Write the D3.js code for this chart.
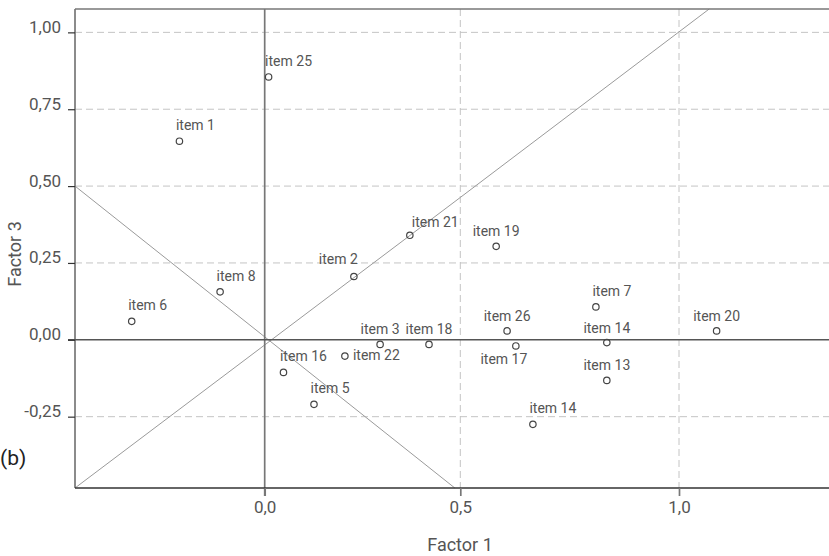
<!DOCTYPE html>
<html>
<head>
<meta charset="UTF-8">
<title>Factor 1 vs Factor 3</title>
<script src="https://d3js.org/d3.v7.min.js"></script>
<style>
body { margin: 0; background: #fff; }
svg { display: block; }
text { font-family: Roboto, "DejaVu Sans", sans-serif; }
</style>
</head>
<body>
<script>

/* Data: item loadings */
var items   = ['item 25', 'item 1', 'item 6', 'item 8', 'item 2', 'item 21', 'item 19',
               'item 3', 'item 18', 'item 16', 'item 22', 'item 26', 'item 17', 'item 7',
               'item 14', 'item 13', 'item 20', 'item 5', 'item 14']
var factor1 = [0.01, -0.218, -0.34, -0.114, 0.228, 0.371, 0.582,
               0.295, 0.42, 0.048, 0.205, 0.607, 0.627, 0.81,
               0.835, 0.835, 1.086, 0.126, 0.666]
var factor3 = [0.855, 0.646, 0.06, 0.156, 0.206, 0.34, 0.304,
               -0.015, -0.015, -0.106, -0.053, 0.029, -0.02, 0.107,
               -0.009, -0.132, 0.029, -0.21, -0.275]
// where the label sits relative to its point
var labelPos = ['nw', 'nw', 'nw', 'nw', 'nl', 'ne', 'n',
                'n', 'n', 'nw', 'e', 'n', 's', 'nw',
                'n', 'n', 'n', 'nw', 'nw']

var xTicks = [0, 0.5, 1.0]
var yTicks = [-0.25, 0, 0.25, 0.5, 0.75, 1.0]
var xDomain = [-0.485, 0, 0.5, 1.0, 1.343]	// axis breaks of the original are not even
var yDomain = [-0.482, 1.076]

// guide lines through the origin
var guide1 = [[-0.485, -0.482], [0.5, 0.463], [1.069, 1.076]]
var guide2 = [[-0.485, 0.5], [0.486, -0.482]]

/* Layout (window.top is read-only, so other names) */
var W = 829, H = 556
var pLeft = 75, pRight = 829, pTop = 9, pBottom = 488

var x = d3.scaleLinear()
	.domain(xDomain)
	.range([pLeft, 264.7, 460.3, 679, pRight])
var y = d3.scaleLinear()
	.domain(yDomain)
	.range([pBottom, pTop])

var svg = d3.select('body').append('svg')
	.attr('width', W)
	.attr('height', H)

// decimal comma and a plain hyphen for the minus sign
var comma = function(f) {
	return function(d) { return d3.format(f)(d).replace('.', ',').replace('\u2212', '-') }
}

/* dashed grid */
svg.append('g').selectAll('line')
	.data(yTicks.filter(function(d) { return d != 0 }))
	.enter().append('line')
	.attr('x1', pLeft).attr('x2', pRight)
	.attr('y1', function(d) { return y(d) }).attr('y2', function(d) { return y(d) })
	.style('stroke', '#c4c4c4').style('stroke-dasharray', '7,4')

svg.append('g').selectAll('line')
	.data(xTicks.filter(function(d) { return d != 0 }))
	.enter().append('line')
	.attr('x1', function(d) { return x(d) }).attr('x2', function(d) { return x(d) })
	.attr('y1', pTop).attr('y2', pBottom)
	.style('stroke', '#c4c4c4').style('stroke-dasharray', '7,4')

/* guide lines */
var line = d3.line().x(function(d) { return x(d[0]) }).y(function(d) { return y(d[1]) })
svg.selectAll('path.guide')
	.data([guide1, guide2])
	.enter().append('path')
	.attr('class', 'guide')
	.attr('d', line)
	.style('fill', 'none').style('stroke', '#9a9a9a').style('stroke-width', 1)

/* frame and zero lines */
svg.append('line').attr('x1', pLeft).attr('x2', pRight).attr('y1', pTop).attr('y2', pTop)
	.style('stroke', '#777').style('stroke-width', 1.4)
svg.append('line').attr('x1', pLeft).attr('x2', pLeft).attr('y1', pTop).attr('y2', pBottom)
	.style('stroke', '#777').style('stroke-width', 1.7)
svg.append('line').attr('x1', x(0)).attr('x2', x(0)).attr('y1', pTop).attr('y2', pBottom + 8)
	.style('stroke', '#777').style('stroke-width', 1.7)
svg.append('line').attr('x1', pLeft - 7).attr('x2', pRight).attr('y1', y(0)).attr('y2', y(0))
	.style('stroke', '#555').style('stroke-width', 1.5)
svg.append('line').attr('x1', pLeft).attr('x2', pRight).attr('y1', pBottom).attr('y2', pBottom)
	.style('stroke', '#333').style('stroke-width', 1.5)

/* axes */
var yAxis = svg.append('g')
	.attr('transform', 'translate(' + pLeft + ',0)')
	.call(d3.axisLeft(y).tickValues(yTicks).tickSize(7).tickPadding(7).tickFormat(comma('.2f')))
yAxis.select('.domain').remove()
yAxis.selectAll('line').style('stroke', '#333').style('stroke-width', 1.2)
yAxis.selectAll('text').attr('dy', '0').style('font-size', '17px').style('fill', '#555')

var xAxis = svg.append('g')
	.attr('transform', 'translate(0,' + pBottom + ')')
	.call(d3.axisBottom(x).tickValues(xTicks).tickSize(8).tickPadding(5).tickFormat(comma('.1f')))
xAxis.select('.domain').remove()
xAxis.selectAll('line').style('stroke', '#777').style('stroke-width', 1.7)
xAxis.selectAll('text').style('font-size', '17px').style('fill', '#555')

/* axis titles */
svg.append('text')
	.attr('x', 460).attr('y', 551)
	.attr('text-anchor', 'middle')
	.style('font-size', '18px').style('fill', '#555')
	.text('Factor 1')
svg.append('text')
	.attr('transform', 'translate(21,254) rotate(-90)')
	.attr('text-anchor', 'middle')
	.style('font-size', '18px').style('fill', '#555')
	.text('Factor 3')
svg.append('text')
	.attr('x', 0).attr('y', 465)
	.style('font-size', '21px').style('fill', '#222')
	.text('(b)')

/* points */
var pts = d3.range(items.length)
svg.append('g').selectAll('circle')
	.data(pts)
	.enter().append('circle')
	.attr('cx', function(i) { return x(factor1[i]) })
	.attr('cy', function(i) { return y(factor3[i]) })
	.attr('r', 3.2)
	.style('fill', 'none').style('stroke', '#444').style('stroke-width', 1.2)

// label offsets per placement code
var place = {
	nw: { dx: -3.5, dy: -11, anchor: 'start' },
	n:  { dx: 0, dy: -10, anchor: 'middle' },
	ne: { dx: 2, dy: -8, anchor: 'start' },
	nl: { dx: 4, dy: -12, anchor: 'end' },
	e:  { dx: 8, dy: 3.5, anchor: 'start' },
	s:  { dx: -12, dy: 18, anchor: 'middle' }
}
svg.append('g').selectAll('text')
	.data(pts)
	.enter().append('text')
	.attr('x', function(i) { return x(factor1[i]) + place[labelPos[i]].dx })
	.attr('y', function(i) { return y(factor3[i]) + place[labelPos[i]].dy })
	.attr('text-anchor', function(i) { return place[labelPos[i]].anchor })
	.style('font-size', '14px').style('fill', '#555')
	.text(function(i) { return items[i] })

</script>
</body>
</html>
